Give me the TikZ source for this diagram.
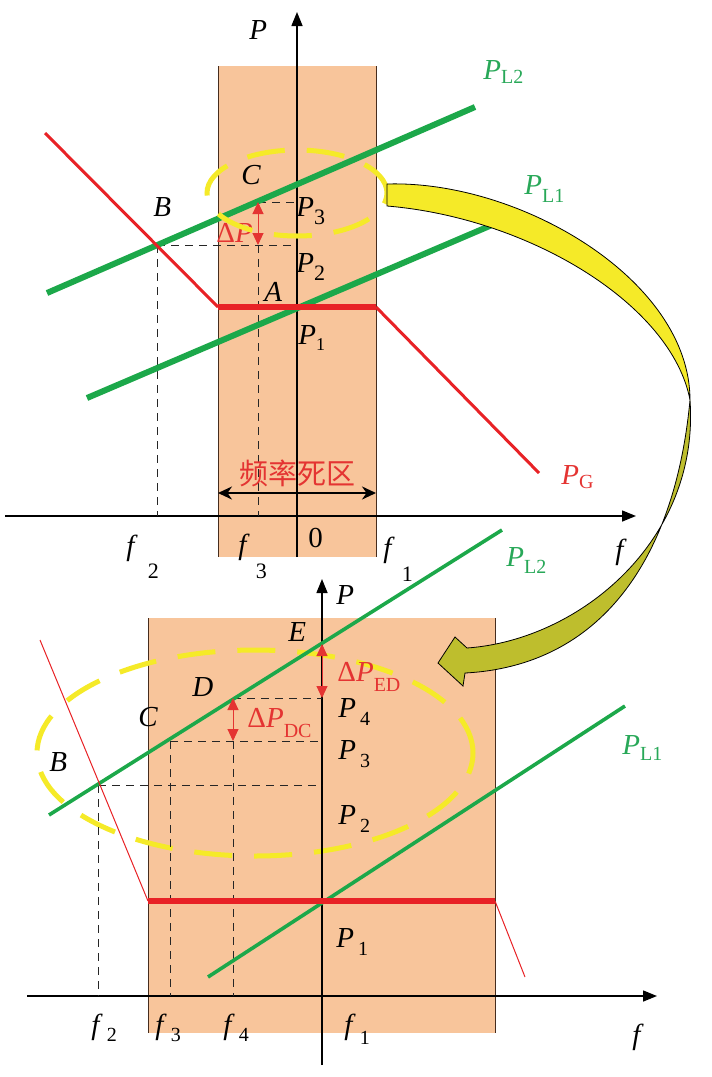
\documentclass[tikz,border=0pt]{standalone}
\usepackage{fontspec}
\setmainfont{Liberation Serif}
\newfontfamily\cjk{Noto Sans CJK SC}
\usetikzlibrary{arrows.meta}
\definecolor{peach}{RGB}{248,197,155}
\definecolor{cred}{RGB}{232,34,38}
\definecolor{cgreen}{RGB}{28,168,74}
\definecolor{cyel}{RGB}{245,234,40}
\definecolor{colive}{RGB}{190,190,45}
\definecolor{edgec}{RGB}{70,45,30}
\definecolor{tred}{RGB}{228,52,50}
\definecolor{tgreen}{RGB}{40,168,88}
\newcommand\subl[4]{\hspace{#1}\raisebox{-#2}{\fontsize{#3}{#3}\selectfont\upshape #4}}
\tikzset{
  lbl/.style={inner sep=0pt, anchor=base west, font=\fontsize{14.5}{15}\selectfont},
  axisline/.style={line width=0.75pt, black, -{Triangle[length=7pt,width=5.5pt]}},
  guide/.style={line width=0.5pt, dash pattern=on 4pt off 3pt, black!85},
  ell/.style={cyel, line width=2.5pt, dash pattern=on 19pt off 11pt},
  delta/.style={tred, line width=0.5pt, {Triangle[length=6pt,width=5.5pt]}-{Triangle[length=6pt,width=5.5pt]}},
  rectedge/.style={edgec, line width=0.5pt},
  arrowband/.style={draw=black, line width=0.4pt}
}
\begin{document}
\begin{tikzpicture}[x=0.5pt, y=-0.5pt]
\useasboundingbox (0,0) rectangle (712,1077);
% ================= TOP PANEL =================
\fill[peach] (218,66) rectangle (376,557);
\draw[rectedge] (218,66) -- (218,557);
\draw[rectedge] (376,66) -- (376,557);
\coordinate (tPb) at (297,557);
\coordinate (tPt) at (297,12);
\coordinate (tfl) at (5,516);
\coordinate (tfr) at (636,516);
\draw[axisline] (tPb) -- (tPt);
\draw[axisline] (tfl) -- (tfr);
% points
\coordinate (tB) at (157,245);
\coordinate (tC) at (258,202);
\coordinate (tBa) at (297,245);
\coordinate (tCa) at (297,202);
\coordinate (tBf) at (157,516);
\coordinate (tCf) at (258,516);
\coordinate (tCl) at (258,245);
\draw[guide] (tB) -- (tBa);
\draw[guide] (tB) -- (tBf);
\draw[guide] (tC) -- (tCa);
\draw[guide] (tCl) -- (tCf);
% green lines
\coordinate (tL2a) at (47,293);
\coordinate (tL2b) at (475,107);
\coordinate (tL1a) at (87,398);
\coordinate (tL1b) at (520,213);
\draw[cgreen, line width=3pt] (tL2a) -- (tL2b);
\draw[cgreen, line width=3pt] (tL1a) -- (tL1b);
% red PG
\coordinate (tG1) at (45,133);
\coordinate (tG2) at (218,307);
\coordinate (tG3) at (376,307);
\coordinate (tG4) at (539,473);
\draw[cred, line width=1.5pt] (tG1) -- (tG2);
\draw[cred, line width=1.5pt] (tG3) -- (tG4);
\draw[cred, line width=2.6pt] (tG2) -- (tG3);
% delta P arrow
\draw[delta] (tCl) -- (tC);
% dead-band arrow
\coordinate (tdzl) at (218,493);
\coordinate (tdzr) at (376,493);
\draw[line width=1.25pt, {Stealth[length=7pt,width=6.5pt]}-{Stealth[length=7pt,width=6.5pt]}] (tdzl) -- (tdzr);
% labels
\node[lbl] (tPl) at (249,39) {\itshape P};
\node[lbl] (tBl) at (153,216) {\itshape B};
\node[lbl] (tCl2) at (241,184) {\itshape C};
\node[lbl] (tAl) at (264,301) {\itshape A};
\node[lbl] (tP3) at (296,216) {\textit{P}\subl{0pt}{4pt}{11}{3}};
\node[lbl] (tP2) at (296,272) {\textit{P}\subl{0pt}{4pt}{11}{2}};
\node[lbl] (tP1) at (298,344) {\textit{P}\subl{0pt}{3pt}{9}{1}};
\node[lbl, text=tred] (tdP) at (216,242) {Δ\textit{P}};
\node[lbl, text=tgreen] (tPL2) at (483,79) {\textit{P}\subl{0pt}{2pt}{10}{L2}};
\node[lbl, text=tgreen] (tPL1) at (524,194) {\textit{P}\subl{0pt}{4pt}{10}{L1}};
\node[lbl, text=tred] (tPG) at (561,484) {\textit{P}\subl{0pt}{2pt}{10}{G}};
\node[lbl] (tf2) at (126,555) {\textit{f}\subl{5pt}{11.5pt}{11}{2}};
\node[lbl] (tf3) at (238,554) {\textit{f}\subl{3pt}{12pt}{11}{3}};
\node[lbl] (tf1) at (383,557) {\textit{f}\subl{3.5pt}{12pt}{11}{1}};
\node[lbl] (t0) at (308,547) {0};
\node[lbl] (tf) at (615,559) {\itshape f};
\node[font=\cjk\fontsize{14.5}{15}\selectfont, text=tred, inner sep=0pt] (tdz) at (297,473) {频率死区};
% yellow ellipse
\draw[ell] (297,193) ellipse [x radius=45pt, y radius=21.5pt];
% ================= BOTTOM PANEL =================
\fill[peach] (148,618) rectangle (495,1033);
\draw[rectedge] (148,618) -- (148,1033);
\draw[rectedge] (495,618) -- (495,1033);
\draw[ell] (255,753) ellipse [x radius=109pt, y radius=51.5pt];
\coordinate (bPb) at (322,1065);
\coordinate (bPt) at (322,579);
\coordinate (bfl) at (27,996);
\coordinate (bfr) at (657,996);
\draw[axisline] (bPb) -- (bPt);
\draw[axisline] (bfl) -- (bfr);
% points
\coordinate (bE) at (322,644);
\coordinate (bD) at (233,698);
\coordinate (bC) at (170,741);
\coordinate (bB) at (98,785);
\coordinate (bDa) at (322,698);
\coordinate (bCa) at (322,741);
\coordinate (bBa) at (322,785);
\coordinate (bDl) at (233,741);
\coordinate (bDf) at (233,996);
\coordinate (bCf) at (170,996);
\coordinate (bBf) at (98,996);
\draw[guide] (bD) -- (bDa);
\draw[guide] (bC) -- (bCa);
\draw[guide] (bB) -- (bBa);
\draw[guide] (bDl) -- (bDf);
\draw[guide] (bC) -- (bCf);
\draw[guide] (bB) -- (bBf);
% green
\coordinate (bL2a) at (49,815);
\coordinate (bL2b) at (502,530);
\coordinate (bL1a) at (208,977);
\coordinate (bL1b) at (625,706);
\draw[cgreen, line width=1.8pt] (bL2a) -- (bL2b);
\draw[cgreen, line width=1.8pt] (bL1a) -- (bL1b);
% red
\coordinate (bG1) at (40,640);
\coordinate (bG2) at (148,901);
\coordinate (bG3) at (495,901);
\coordinate (bG4) at (525,977);
\draw[cred, line width=0.5pt] (bG1) -- (bG2);
\draw[cred, line width=0.5pt] (bG3) -- (bG4);
\draw[cred, line width=2.6pt] (bG2) -- (bG3);
% delta arrows
\draw[delta] (bDa) -- (bE);
\draw[delta] (bDl) -- (bD);
% labels
\node[lbl] (bPl) at (336,604) {\itshape P};
\node[lbl] (bEl) at (288,641) {\itshape E};
\node[lbl] (bDl2) at (192,696) {\itshape D};
\node[lbl] (bCl) at (138,726) {\itshape C};
\node[lbl] (bBl) at (49,771) {\itshape B};
\node[lbl] (bP4) at (338,717) {\textit{P}\subl{2pt}{4pt}{10}{4}};
\node[lbl] (bP3) at (338,759) {\textit{P}\subl{2pt}{4pt}{10}{3}};
\node[lbl] (bP2) at (338,824) {\textit{P}\subl{2pt}{4pt}{10}{2}};
\node[lbl] (bP1) at (336,947) {\textit{P}\subl{2pt}{4pt}{10}{1}};
\node[lbl, text=tred] (bdPED) at (337,681) {Δ\textit{P}\subl{0pt}{5pt}{10}{ED}};
\node[lbl, text=tred] (bdPDC) at (247,727) {Δ\textit{P}\subl{0pt}{5pt}{10}{DC}};
\node[lbl, text=tgreen] (bPL2) at (506,566) {\textit{P}\subl{0pt}{3.5pt}{10}{L2}};
\node[lbl, text=tgreen] (bPL1) at (622,754) {\textit{P}\subl{0pt}{3pt}{10}{L1}};
\node[lbl] (bf2) at (91,1034) {\textit{f}\subl{2pt}{3.5pt}{10}{2}};
\node[lbl] (bf3) at (155,1034) {\textit{f}\subl{2pt}{3.5pt}{10}{3}};
\node[lbl] (bf4) at (223,1034) {\textit{f}\subl{2pt}{3.5pt}{10}{4}};
\node[lbl] (bf1) at (344,1034) {\textit{f}\subl{2pt}{5pt}{10}{1}};
\node[lbl] (bf) at (632,1044) {\itshape f};
% ================= CURVED ARROW =================
\filldraw[cyel, arrowband] (387,184) .. controls (520,180) and (690,280) .. (690,400)
   .. controls (672,305) and (530,218) .. (387,206) -- cycle;
\filldraw[colive, arrowband] (690,400) .. controls (700,540) and (580,640) .. (467,648)
   -- (455,637) -- (438,663) -- (463,686) -- (465,673)
   .. controls (600,666) and (675,560) .. (690,400) -- cycle;
\end{tikzpicture}
\end{document}
